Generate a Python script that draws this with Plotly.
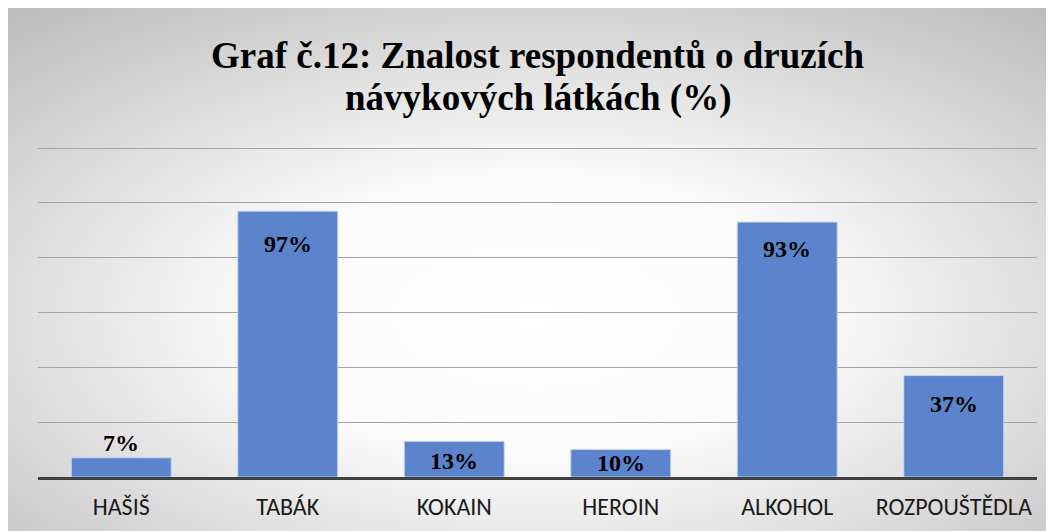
import base64
import plotly.graph_objects as go

# ---- data ----
categories = ["HAŠIŠ", "TABÁK", "KOKAIN", "HEROIN", "ALKOHOL", "ROZPOUŠTĚDLA"]
values = [7, 97, 13, 10, 93, 37]
value_labels = ["7%", "97%", "13%", "10%", "93%", "37%"]
title_lines = ["Graf č.12: Znalost respondentů o druzích", "návykových látkách (%)"]

# ---- style ----
label_shift = [15, -33, -20, -13, -27, -28]   # px offset of value label from bar end
title_line_y = [47, 90]                       # px from top of figure (line centres)
bar_color = "#5B84CC"
W, H = 1054, 531
L, R, T, B = 30, 25, 139, 62
SERIF = "Liberation Serif"

svg = (
    '<svg xmlns="http://www.w3.org/2000/svg" width="1054" height="531" preserveAspectRatio="none">'
    '<defs><radialGradient id="g" cx="50%" cy="58%" r="75%" fx="50%" fy="58%">'
    '<stop offset="0%" stop-color="#ffffff"/>'
    '<stop offset="35%" stop-color="#fbfbfb"/>'
    '<stop offset="100%" stop-color="#bdbdbd"/>'
    '</radialGradient></defs>'
    '<rect width="1054" height="531" fill="url(#g)"/></svg>'
)
src = "data:image/svg+xml;base64," + base64.b64encode(svg.encode()).decode()

pw, ph = W - L - R, H - T - B
x0 = -L / pw
x1 = (W - L) / pw
y0 = (H - B) / ph
y1 = -B / ph

fig = go.Figure()
fig.add_trace(go.Bar(
    x=categories, y=values,
    marker=dict(color=bar_color, line=dict(color="rgba(200,215,240,0.9)", width=1)),
    width=0.6,
    hoverinfo="x+y",
))

for c, v, t, s in zip(categories, values, value_labels, label_shift):
    fig.add_annotation(
        x=c, y=v, text=f"<b>{t}</b>", showarrow=False,
        yanchor="middle", yshift=s,
        font=dict(family=SERIF, size=24, color="#000000"),
    )

for line, ly in zip(title_lines, title_line_y):
    fig.add_annotation(
        x=0.5, xref="paper", y=(H - B - ly) / ph, yref="paper",
        xanchor="center", yanchor="middle", showarrow=False,
        text=f"<b>{line}</b>",
        font=dict(family=SERIF, size=37, color="#000000"),
    )

fig.add_layout_image(dict(
    source=src, xref="paper", yref="paper", x=x0, y=y0,
    sizex=x1 - x0, sizey=y0 - y1, xanchor="left", yanchor="top",
    sizing="stretch", layer="below",
))

fig.update_layout(
    width=W, height=H,
    margin=dict(l=L, r=R, t=T, b=B),
    paper_bgcolor="#ffffff",
    plot_bgcolor="rgba(0,0,0,0)",
    showlegend=False,
    xaxis=dict(
        showline=True, linecolor="#404040", linewidth=3,
        showgrid=False, ticks="outside", ticklen=6, tickcolor="rgba(0,0,0,0)",
        tickfont=dict(family="Carlito", size=24, color="#1a1a1a"),
        fixedrange=True,
    ),
    yaxis=dict(
        range=[0, 120.4], dtick=20, showticklabels=False,
        showgrid=True, gridcolor="#a3a3a3", gridwidth=1,
        zeroline=False, fixedrange=True,
    ),
)

fig.write_html("out.html")
